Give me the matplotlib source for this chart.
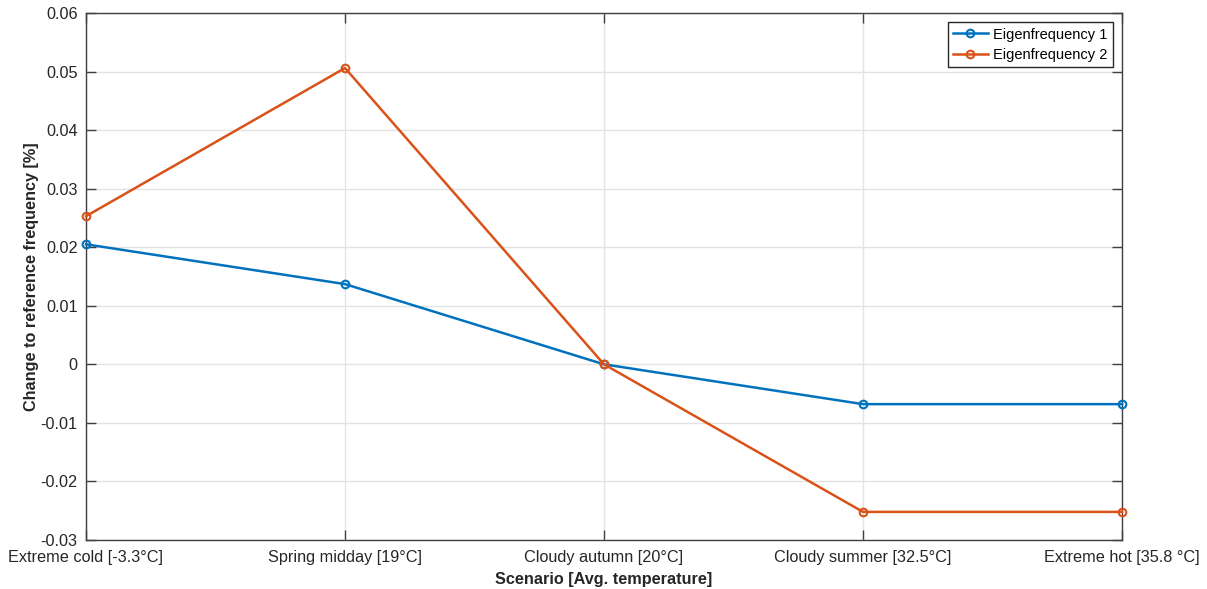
import numpy as np
import matplotlib.pyplot as plt

plt.rcParams['font.family'] = ['Liberation Sans', 'DejaVu Sans']

# scenarios and relative frequency changes
scenarios = ['Extreme cold [-3.3°C]', 'Spring midday [19°C]', 'Cloudy autumn [20°C]',
             'Cloudy summer [32.5°C]', 'Extreme hot [35.8 °C]']
eig1 = [0.0205, 0.0137, 0.0, -0.0068, -0.0068]
eig2 = [0.0253, 0.0506, 0.0, -0.0252, -0.0252]

fig = plt.figure(figsize=(12.07, 5.89), dpi=100)
ax = fig.add_axes([86 / 1207, 1 - 540 / 589, (1122 - 86) / 1207, (540 - 13) / 589])

x = np.arange(len(scenarios))
ax.plot(x, eig1, '-o', color='#0072BD', lw=1.8, ms=5.5, mfc='none', mew=1.5,
        label='Eigenfrequency 1', clip_on=False, zorder=3)
ax.plot(x, eig2, '-o', color='#D95319', lw=1.8, ms=5.5, mfc='none', mew=1.5,
        label='Eigenfrequency 2', clip_on=False, zorder=3)

ax.set_xlim(0, len(scenarios) - 1)
ax.set_ylim(-0.03, 0.06)
ax.set_xticks(x)
ax.set_xticklabels(scenarios)
ax.set_yticks(np.arange(-0.03, 0.061, 0.01))
ax.set_yticklabels(['-0.03', '-0.02', '-0.01', '0', '0.01', '0.02', '0.03', '0.04', '0.05', '0.06'])

ax.grid(True, color='#e3e3e3', lw=1)
ax.set_axisbelow(True)
ax.tick_params(direction='in', length=7, width=1, colors='#404040', labelsize=11.7,
               top=True, right=True, labelcolor='#262626')
ax.tick_params(axis='x', pad=7)
ax.tick_params(axis='y', pad=6)
for s in ax.spines.values():
    s.set_color('#404040')
    s.set_linewidth(1)

ax.set_xlabel('Scenario [Avg. temperature]', fontsize=11.7, fontweight='bold',
              color='#262626', labelpad=5)
ax.set_ylabel('Change to reference frequency [%]', fontsize=11.7, fontweight='bold',
              color='#262626', labelpad=1)

leg = ax.legend(loc='upper right', fontsize=10.5, fancybox=False, framealpha=1,
                edgecolor='#262626', borderpad=0.35, handlelength=2.4, handletextpad=0.35,
                labelspacing=0.45, borderaxespad=0.65)
leg.get_frame().set_linewidth(1)

fig.savefig('out.png', dpi=100)
